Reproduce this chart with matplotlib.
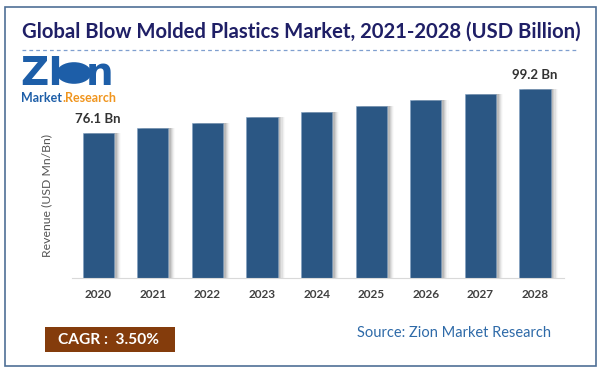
import matplotlib.pyplot as plt
from matplotlib.patches import Rectangle, Circle

years = ['2020', '2021', '2022', '2023', '2024', '2025', '2026', '2027', '2028']
revenue = [76.1, 78.7, 81.4, 84.5, 87.2, 90.5, 93.6, 96.8, 99.2]
labels = {0: '76.1 Bn', 8: '99.2 Bn'}

bar_color = '#2b5784'
title_color = '#1f1f66'
font = 'Lato'

fig = plt.figure(figsize=(6, 3.73), dpi=100)
fig.patch.set_facecolor('white')

# outer frame
fig.add_artist(Rectangle((5 / 600, 7 / 373), 591 / 600, 359 / 373, transform=fig.transFigure,
                         fill=False, edgecolor='#4f6f96', linewidth=1.2))

fig.text(0.502, 1 - 32 / 373, 'Global Blow Molded Plastics Market, 2021-2028 (USD Billion)',
         ha='center', va='center', fontsize=14.6, fontweight='bold', color=title_color, family=font)
fig.add_artist(plt.Line2D([22 / 600, 578 / 600], [1 - 50 / 373] * 2, transform=fig.transFigure,
                          color='#7f9fcf', linewidth=0.9, linestyle=(0, (3, 2.5))))

# logo (rough)
fig.text(20 / 600, 1 - 74 / 373, 'ZI', ha='left', va='center', fontsize=28, fontweight='heavy',
         color='#1d5ea8', family='DejaVu Sans')
fig.add_artist(Circle((74 / 600, 1 - 73 / 373), 0.029, transform=fig.transFigure,
                      facecolor='#1d5ea8', edgecolor='none'))
fig.text(86 / 600, 1 - 74 / 373, 'n', ha='left', va='center', fontsize=28, fontweight='heavy',
         color='#1d5ea8', family='DejaVu Sans')
fig.text(21 / 600, 1 - 98 / 373, 'Market', ha='left', va='center', fontsize=9, fontweight='bold',
         color='#1d5ea8', family=font)
fig.text(62 / 600, 1 - 98 / 373, '.Research', ha='left', va='center', fontsize=9, fontweight='bold',
         color='#f0951e', family=font)

ax = fig.add_axes([72 / 600, 95 / 373, 492 / 600, 190.1 / 373])
x = list(range(len(years)))

# soft shadow to the right of each bar
for k, a in enumerate([0.10, 0.08, 0.06, 0.04, 0.02]):
    ax.bar([i + 0.05 + k * 0.02 for i in x], revenue, width=0.57, color='black', alpha=a,
           linewidth=0, zorder=1)
ax.bar(x, revenue, width=0.57, color=bar_color, edgecolor='#7f9fc0', linewidth=0.4, zorder=2)

for i, t in labels.items():
    ax.annotate(t, (i, revenue[i]), xytext=(0, 6), textcoords='offset points', ha='center',
                va='bottom', fontsize=9.5, fontweight='bold', color='#333333', family=font,
                annotation_clip=False)

ax.set_xlim(-0.48, 8.53)
ax.set_ylim(0, 100)
ax.set_xticks(x)
ax.set_xticklabels(years, fontsize=8.5, fontweight='bold', color='#404040', family=font)
ax.set_yticks([])
ax.tick_params(axis='x', length=0, pad=8)
for s in ['top', 'right', 'left']:
    ax.spines[s].set_visible(False)
ax.spines['bottom'].set_color('#d9d9d9')
ax.set_ylabel('Revenue (USD Mn/Bn)', fontsize=8.8, color='#555555', family=font)
ax.yaxis.set_label_coords(-0.04, 0.435)

# CAGR box and source
fig.add_artist(Rectangle((45 / 600, 1 - 352 / 373), 130 / 600, 25 / 373, transform=fig.transFigure,
                         facecolor='#843c0c', edgecolor='none'))
fig.text(109 / 600, 1 - 340 / 373, 'CAGR :  3.50%', ha='center', va='center', fontsize=11.2,
         fontweight='bold', color='white', family=font)
fig.text(551 / 600, 1 - 333 / 373, 'Source: Zion Market Research', ha='right', va='center',
         fontsize=10.5, color='#2e6aa8', family=font)

fig.savefig('out.png', dpi=100)
